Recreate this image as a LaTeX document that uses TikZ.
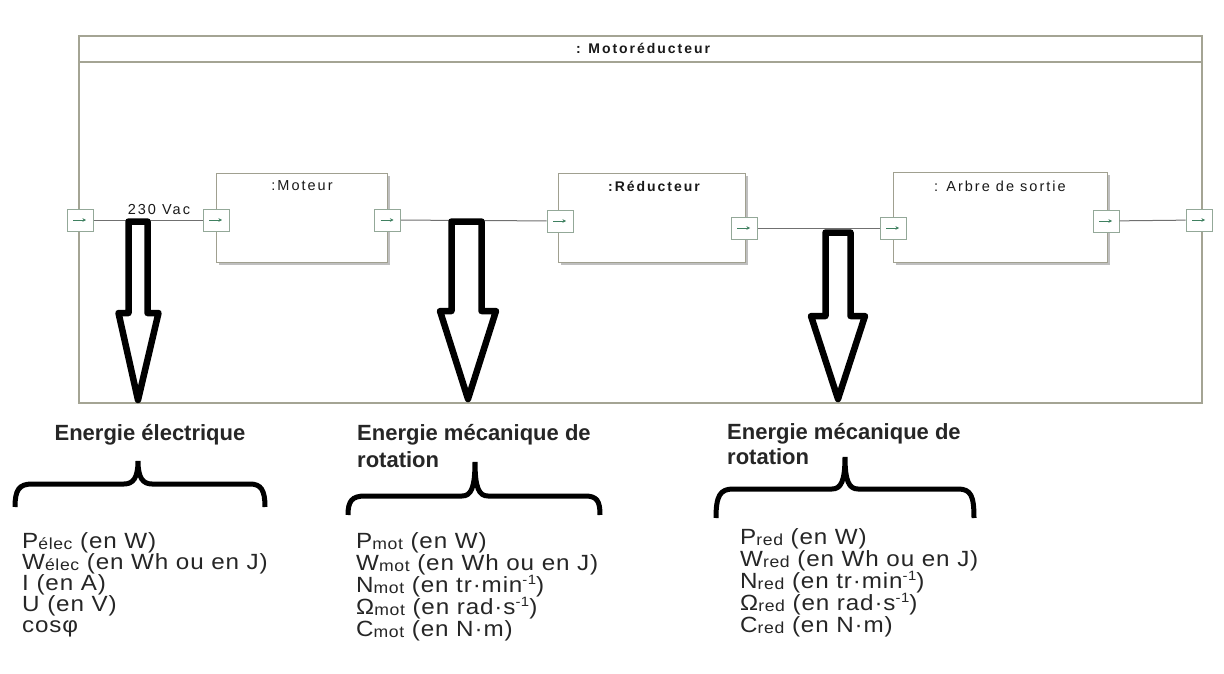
\documentclass[tikz,border=0pt]{standalone}
\usepackage{fontspec}
\setmainfont{Liberation Sans}
\newfontfamily\umlfont[LetterSpace=14]{Liberation Sans}
\newfontfamily\listfont[LetterSpace=4,FakeStretch=1.1]{Liberation Sans}
\usetikzlibrary{arrows.meta,shadows}
\definecolor{framec}{HTML}{A4A494}
\definecolor{boxc}{HTML}{A0A090}
\definecolor{portc}{HTML}{93A898}
\definecolor{portarr}{HTML}{3F8060}
\definecolor{linec}{HTML}{707070}
\newcommand{\sbs}[1]{\raisebox{-1.5pt}{\fontsize{16}{16}\selectfont #1}}
\newcommand{\sps}[1]{\raisebox{0.34em}{\fontsize{13.5}{13.5}\selectfont #1}}
\tikzset{
  umlframe/.style={draw=framec, line width=1.6pt, fill=white, inner sep=0pt},
  umlbox/.style={draw=boxc, line width=1pt, fill=white, inner sep=0pt,
    drop shadow={shadow xshift=2.5pt, shadow yshift=-2.5pt, fill=black!25, opacity=1}},
  umltitle/.style={font=\umlfont\fontsize{14.5}{14.5}\selectfont, inner sep=0pt, text=black!90},
  port/.style={draw=portc, line width=1pt, fill=white, minimum width=26pt,
    minimum height=22pt, inner sep=0pt,
    path picture={\draw[portarr, line width=0.8pt, -{Stealth[length=3.5pt,width=3.5pt]}]
      ([xshift=-7pt]path picture bounding box.center) --
      ([xshift=6pt]path picture bounding box.center);}},
  conn/.style={draw=linec, line width=1pt},
  bigarrow/.style={draw=black, line width=6.5pt, fill=white, line join=round},
  brace/.style={draw=black, line width=5pt, line cap=butt},
  heading/.style={font=\bfseries\fontsize{22}{22}\selectfont, inner sep=0pt, text=black!85},
  item/.style={font=\listfont\fontsize{22}{22}\selectfont, inner sep=0pt,
    text height=15pt, text depth=3pt, anchor=base west, text=black!85},
}
\begin{document}
\begin{tikzpicture}[x=1pt, y=-1pt]
\useasboundingbox[fill=white] (0,0) rectangle (1224,674);

% outer frame
\node[umlframe, minimum width=1123pt, minimum height=367pt] (frame) at (640.5,219.5) {};
\draw[draw=framec, line width=1.2pt] (frame.west |- 0,62) -- (frame.east |- 0,62);
\node[umltitle, font=\umlfont\bfseries\fontsize{14}{14}\selectfont] (ftitle) at (643,48) {: Motoréducteur};

% blocks
\node[umlbox, minimum width=171pt, minimum height=89pt] (mot) at (301.5,218) {};
\node[umlbox, minimum width=187pt, minimum height=88pt] (red) at (651.5,218) {};
\node[umlbox, minimum width=214pt, minimum height=89pt] (arb) at (1000,217.5) {};
\node[umltitle] (tmot) at (302,186) {:Moteur};
\node[umltitle, font=\umlfont\bfseries\fontsize{14}{14}\selectfont] (tred) at (654,186) {:Réducteur};
\node[umltitle] (tarb) at (1000,186) {: Arbre de sortie};

% ports
\node[port] (pL) at (80,220) {};
\node[port] (mIn) at (216,220) {};
\node[port] (mOut) at (387.5,220) {};
\node[port] (rIn) at (560,221) {};
\node[port] (rOut) at (744,228) {};
\node[port] (aIn) at (893,228) {};
\node[port] (aOut) at (1106,221) {};
\node[port] (pR) at (1199,220) {};

% connectors
\draw[conn] (pL) -- node[pos=0.6, above=5pt, umltitle] (vac) {230 Vac} (mIn);
\draw[conn] (mOut) -- (rIn);
\draw[conn] (rOut) -- (aIn);
\draw[conn] (aOut) -- (pR);

% hollow block arrows
\draw[bigarrow] (128.5,221.5) -- (128.5,313) -- (118.5,313) -- (138,400) -- (158.5,313) -- (147.5,313) -- (147.5,221.5) -- cycle;
\draw[bigarrow] (451.5,221.5) -- (451.5,311) -- (440,311) -- (468,399) -- (496,311) -- (481.5,311) -- (481.5,221.5) -- cycle;
\draw[bigarrow] (825.5,232.5) -- (825.5,316) -- (811,316) -- (838,399) -- (865,316) -- (850.5,316) -- (850.5,232.5) -- cycle;

% headings
\node[heading, anchor=base] (h1) at (150,440) {Energie électrique};
\node[heading, anchor=base west] (h2a) at (357,440) {Energie mécanique de};
\node[heading, anchor=base west] (h2b) at (357,467) {rotation};
\node[heading, anchor=base west] (h3a) at (727,439) {Energie mécanique de};
\node[heading, anchor=base west] (h3b) at (727,464) {rotation};

% braces
\draw[brace] (15,507) .. controls (15,490) and (19,484) .. (32,484) -- (124,484)
  .. controls (133,484) and (138,478) .. (138,461)
  .. controls (138,478) and (143,484) .. (152,484) -- (250,484)
  .. controls (261,484) and (265,490) .. (265,507);
\draw[brace] (348,515) .. controls (348,501) and (352,496) .. (365,496) -- (462,496)
  .. controls (471,496) and (475,488) .. (475,462)
  .. controls (475,488) and (479,496) .. (488,496) -- (585,496)
  .. controls (597,496) and (600,501) .. (600,515);
\draw[brace] (716,518) .. controls (716,496) and (720,489) .. (733,489) -- (832,489)
  .. controls (841,489) and (845,481) .. (845,457)
  .. controls (845,481) and (849,489) .. (858,489) -- (958,489)
  .. controls (971,489) and (974,496) .. (974,518);

% lists
\node[item] (e1) at (22,548) {P\sbs{élec} (en W)};
\node[item] (e2) at (22,569) {W\sbs{élec} (en Wh ou en J)};
\node[item] (e3) at (22,590) {I (en A)};
\node[item] (e4) at (22,611) {U (en V)};
\node[item] (e5) at (22,632) {cosφ};

\node[item] (m1) at (356,548) {P\sbs{mot} (en W)};
\node[item] (m2) at (356,570) {W\sbs{mot} (en Wh ou en J)};
\node[item] (m3) at (356,592) {N\sbs{mot} (en tr·min\sps{-1})};
\node[item] (m4) at (356,614) {Ω\sbs{mot} (en rad·s\sps{-1})};
\node[item] (m5) at (356,636) {C\sbs{mot} (en N·m)};

\node[item] (r1) at (740,544) {P\sbs{red} (en W)};
\node[item] (r2) at (740,566) {W\sbs{red} (en Wh ou en J)};
\node[item] (r3) at (740,588) {N\sbs{red} (en tr·min\sps{-1})};
\node[item] (r4) at (740,610) {Ω\sbs{red} (en rad·s\sps{-1})};
\node[item] (r5) at (740,632) {C\sbs{red} (en N·m)};
\end{tikzpicture}
\end{document}
